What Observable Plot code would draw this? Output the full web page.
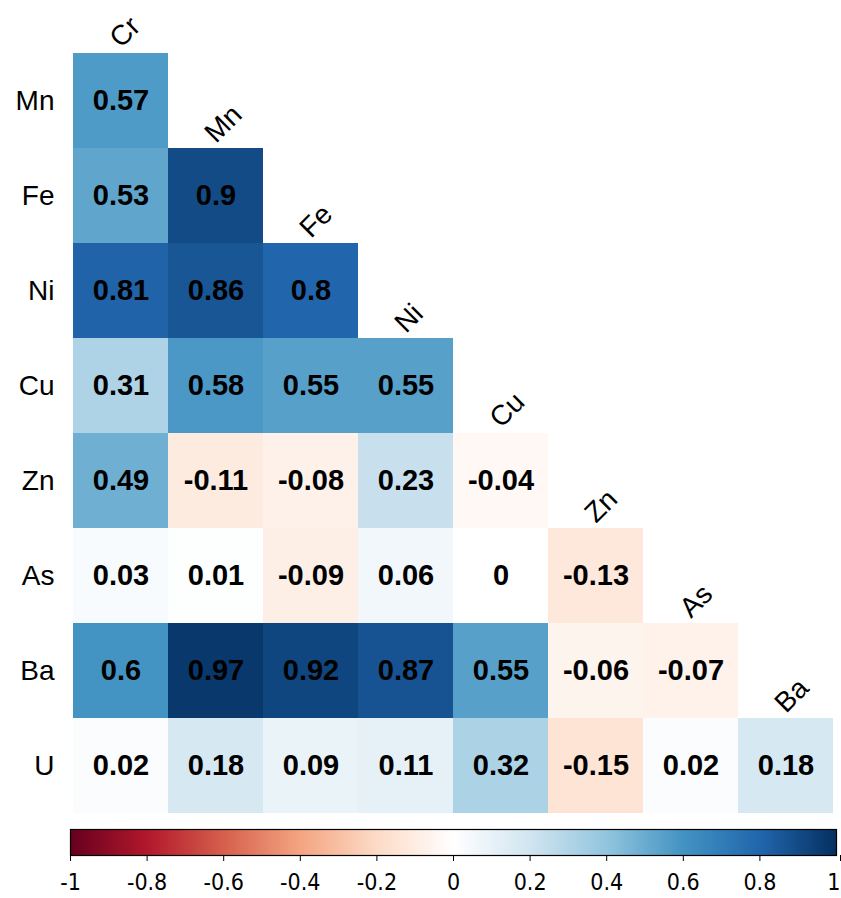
<!DOCTYPE html>
<html>
<head>
<meta charset="utf-8">
<script src="https://cdn.jsdelivr.net/npm/d3@7"></script>
<script src="https://cdn.jsdelivr.net/npm/@observablehq/plot@0.6"></script>
<style>
  html, body { margin: 0; padding: 0; background: #fff; }
  #chart svg { display: block; overflow: visible; }
</style>
</head>
<body>
<div id="chart"></div>
<script>
// Element pairs of the lower-triangular correlation matrix
const rowNames = ["Mn", "Fe", "Ni", "Cu", "Zn", "As", "Ba", "U"];
const colNames = ["Cr", "Mn", "Fe", "Ni", "Cu", "Zn", "As", "Ba"];

// Correlation coefficients, one list per row (columns Cr → Ba)
const rMn = [0.57];
const rFe = [0.53, 0.9];
const rNi = [0.81, 0.86, 0.8];
const rCu = [0.31, 0.58, 0.55, 0.55];
const rZn = [0.49, -0.11, -0.08, 0.23, -0.04];
const rAs = [0.03, 0.01, -0.09, 0.06, 0, -0.13];
const rBa = [0.6, 0.97, 0.92, 0.87, 0.55, -0.06, -0.07];
const rU  = [0.02, 0.18, 0.09, 0.11, 0.32, -0.15, 0.02, 0.18];

// Colour bar tick values
const barTicks = [-1, -0.8, -0.6, -0.4, -0.2, 0, 0.2, 0.4, 0.6, 0.8, 1];

const rowValues = [rMn, rFe, rNi, rCu, rZn, rAs, rBa, rU];
const cells = rowValues.flatMap((vals, i) =>
  vals.map((v, j) => ({row: rowNames[i], col: colNames[j], value: v}))
);

// Red–blue diverging ramp with a pure white midpoint
const rdbuStops = ["#67001f", "#b2182b", "#d6604d", "#f4a582", "#fddbc7", "#ffffff",
                   "#d1e5f0", "#92c5de", "#4393c3", "#2166ac", "#053061"];
const colorScale = {
  type: "diverging",
  domain: [-1, 1],
  pivot: 0,
  interpolate: d3.piecewise(d3.interpolateRgb, rdbuStops)
};
const font = "'Liberation Sans', Arial, sans-serif";

const heat = Plot.plot({
  width: 841,
  height: 820,
  marginLeft: 70,
  marginRight: 5,
  marginTop: 50,
  marginBottom: 4,
  style: {fontFamily: font, background: "white", overflow: "visible"},
  x: {domain: colNames, padding: 0, axis: null},
  y: {domain: rowNames, padding: 0},
  color: colorScale,
  marks: [
    Plot.cell(cells, {x: "col", y: "row", fill: "value"}),
    Plot.text(cells, {
      x: "col", y: "row", text: d => String(d.value),
      fontWeight: "bold", fontSize: 29, fill: "black"
    }),
    Plot.axisY({tickSize: 0, tickPadding: 16, fontSize: 28, label: null, color: "black"}),
    // Column names sit diagonally above the first cell of each column
    Plot.text(colNames, {
      x: d => d,
      y: (d, i) => rowNames[i],
      text: d => d,
      rotate: -45,
      textAnchor: "start",
      lineAnchor: "bottom",
      dx: 0,
      dy: -52,
      fontSize: 28,
      fill: "black"
    })
  ]
});

const tickFmt = d => String(+d.toFixed(1));
const tickStyle = {tickSize: 6, tickPadding: 12, fontSize: 23, label: null, color: "black", tickFormat: tickFmt};

const bar = Plot.plot({
  width: 841,
  height: 78,
  marginLeft: 70,
  marginRight: 5,
  marginTop: 9,
  marginBottom: 43,
  style: {fontFamily: "'DejaVu Sans', " + font, fontStretch: "condensed", background: "white", overflow: "visible"},
  x: {domain: [-1, 1]},
  y: {domain: [0, 1], axis: null},
  color: colorScale,
  marks: [
    Plot.raster({
      fill: (x, y) => x,
      x1: -1, x2: 1, y1: 0, y2: 1,
      width: 766, height: 1
    }),
    Plot.frame({stroke: "black", strokeWidth: 1.2}),
    Plot.axisX({...tickStyle, ticks: barTicks.slice(0, -1)}),
    // the last label is kept inside the right edge
    Plot.axisX({...tickStyle, ticks: barTicks.slice(-1), textAnchor: "end", dx: 4})
  ]
});

const chart = document.getElementById("chart");
chart.append(heat, bar);
</script>
</body>
</html>
